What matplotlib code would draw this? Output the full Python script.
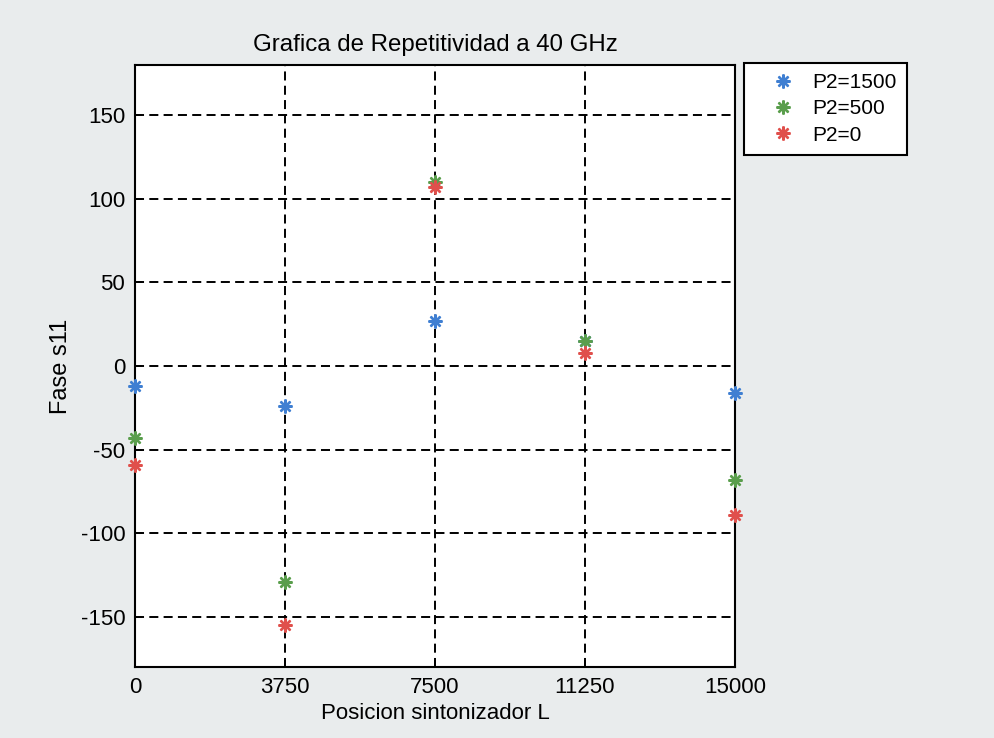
import matplotlib
matplotlib.use("Agg")
import matplotlib.pyplot as plt

# ---- data ----
x_pos = [0, 3750, 7500, 11250, 15000]
p2_1500 = [-12, -24, 27, 15, -16]
p2_500 = [-43, -129, 110, 15, -68]
p2_0 = [-59, -155, 107, 8, -89]
series_labels = ["P2=1500", "P2=500", "P2=0"]
x_ticks = [0, 3750, 7500, 11250, 15000]
y_ticks = [-150, -100, -50, 0, 50, 100, 150]

plt.rcParams['font.family'] = ['Liberation Sans', 'DejaVu Sans']
plt.rcParams['lines.scale_dashes'] = False

fig = plt.figure(figsize=(9.95, 7.38), dpi=100, facecolor='#e9eced')
ax = fig.add_axes([135/995, 1-667/738, 600/995, 602/738])
ax.set_facecolor('white')

colors = ['#3f7fd2', '#5a9e4c', '#e0504c']
asterisk = (8, 2, 0)
for ys, lab, c in zip([p2_1500, p2_500, p2_0], series_labels, colors):
    ax.plot(x_pos, ys, linestyle='none', marker=asterisk, markersize=10,
            markeredgewidth=1.7, color=c, label=lab, clip_on=False, zorder=5)

ax.set_xlim(0, 15000)
ax.set_ylim(-180, 180)
ax.set_xticks(x_ticks)
ax.set_yticks(y_ticks)
ax.set_xticklabels([str(v) for v in x_ticks], fontsize=16)
ax.set_yticklabels([str(v) for v in y_ticks], fontsize=16)
ax.tick_params(direction='in', length=5, width=1.4, pad=7,
               top=False, right=False)
ax.grid(True, color='black', linestyle=(0, (6.5, 3.8)), linewidth=1.4)
for s in ax.spines.values():
    s.set_linewidth(1.5)
    s.set_color('black')

ax.set_title("Grafica de Repetitividad a 40 GHz", fontsize=17.3, pad=10)
ax.set_xlabel("Posicion sintonizador L", fontsize=16, labelpad=4)
ax.set_ylabel("Fase s11", fontsize=17, labelpad=6)

leg = ax.legend(loc='upper left', bbox_to_anchor=(744/995, 1-63/738),
                bbox_transform=fig.transFigure, borderaxespad=0,
                fancybox=False, framealpha=1, edgecolor='black',
                fontsize=15, numpoints=1,
                handlelength=2.75, handletextpad=0.02, labelspacing=0.34,
                borderpad=0.5)
leg.get_frame().set_linewidth(1.5)

fig.savefig("out.png", dpi=100, facecolor=fig.get_facecolor())
